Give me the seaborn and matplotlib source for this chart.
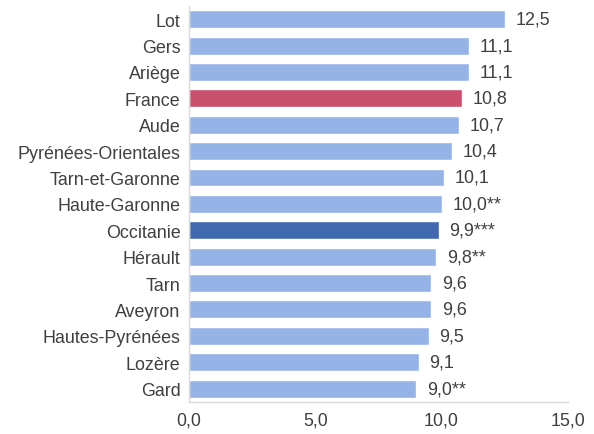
import matplotlib
matplotlib.use("Agg")
import matplotlib.pyplot as plt
import pandas as pd
import seaborn as sns

zones = ["Lot", "Gers", "Ariège", "France", "Aude", "Pyrénées-Orientales",
         "Tarn-et-Garonne", "Haute-Garonne", "Occitanie", "Hérault", "Tarn",
         "Aveyron", "Hautes-Pyrénées", "Lozère", "Gard"]
taux = [12.5, 11.1, 11.1, 10.8, 10.7, 10.4, 10.1, 10.0, 9.9, 9.8, 9.6, 9.6, 9.5, 9.1, 9.0]
marques = ["", "", "", "", "", "", "", "**", "***", "**", "", "", "", "", "**"]

couleurs = {z: "#95b3e7" for z in zones}
couleurs["France"] = "#c94f6d"
couleurs["Occitanie"] = "#4169b0"

df = pd.DataFrame({"zone": zones, "taux": taux})

sns.set_style("white")
plt.rcParams["font.family"] = ["Liberation Sans", "DejaVu Sans"]
txt = "#404040"
fs = 12.9

fig = plt.figure(figsize=(5.94, 4.35), dpi=100)
ax = fig.add_axes([0.318, 0.074, 0.638, 0.91])
sns.barplot(data=df, x="taux", y="zone", hue="zone", palette=couleurs,
            legend=False, width=0.68, ax=ax, saturation=1)

for i, (v, m) in enumerate(zip(taux, marques)):
    lab = f"{v:.1f}".replace(".", ",") + m
    ax.text(v + 0.42, i, lab, va="center", ha="left", fontsize=fs, color=txt)

ax.set_xlim(0, 15)
ax.set_xticks([0, 5, 10, 15])
ax.set_xticklabels(["0,0", "5,0", "10,0", "15,0"])
ax.set_xlabel("")
ax.set_ylabel("")
ax.tick_params(axis="both", length=0, labelsize=fs, colors=txt)
ax.tick_params(axis="x", pad=7)
ax.tick_params(axis="y", pad=6)
for s in ["top", "right"]:
    ax.spines[s].set_visible(False)
for s in ["left", "bottom"]:
    ax.spines[s].set_color("#d9d9d9")
    ax.spines[s].set_linewidth(1)

fig.savefig("out.png", dpi=100)
